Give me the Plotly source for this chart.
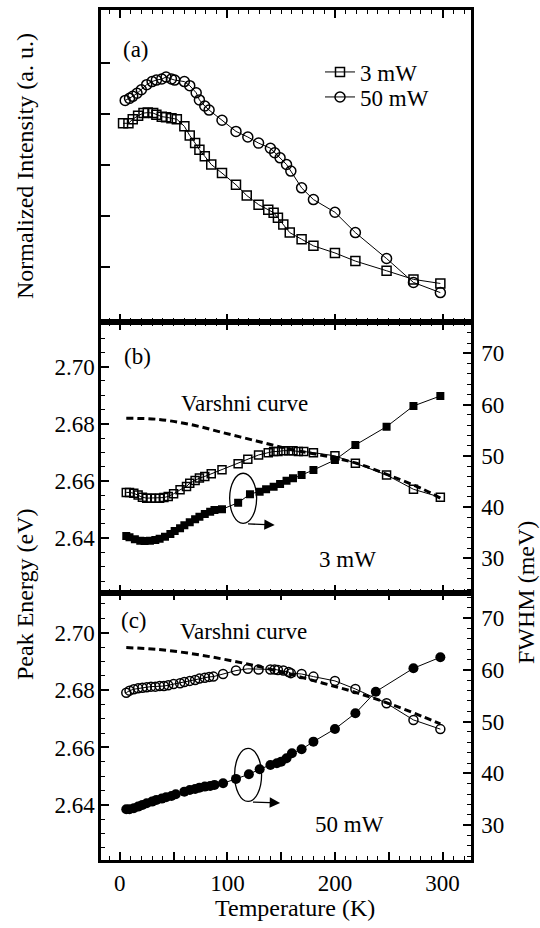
import plotly.graph_objects as go

# ---------------- data ----------------
# (a) normalized intensity
T_a3 = [3, 8, 12, 17, 22, 26, 31, 34, 39, 43, 48, 53, 60, 65, 70, 74, 79, 85, 95, 108,
        118, 129, 138, 143, 147, 152, 158, 169, 180, 200, 219, 248, 273, 298]
I_a3 = [3.82, 3.82, 3.90, 3.97, 4.02, 4.03, 4.02, 3.99, 3.95, 3.94, 3.92, 3.90, 3.76, 3.58,
        3.43, 3.30, 3.17, 3.01, 2.84, 2.61, 2.40, 2.22, 2.12, 2.06, 1.96, 1.83, 1.67, 1.54,
        1.41, 1.27, 1.11, 0.92, 0.75, 0.67]
T_a50 = [5, 9, 12, 16, 20, 25, 30, 34, 39, 43, 48, 51, 60, 65, 71, 74, 79, 83, 95, 108,
         119, 129, 140, 144, 149, 155, 159, 169, 180, 200, 219, 248, 273, 298]
I_a50 = [4.27, 4.31, 4.35, 4.41, 4.48, 4.58, 4.64, 4.67, 4.69, 4.73, 4.69, 4.67, 4.64, 4.56,
         4.42, 4.28, 4.16, 4.08, 3.88, 3.66, 3.55, 3.43, 3.33, 3.24, 3.14, 3.01, 2.88, 2.55,
         2.32, 2.07, 1.67, 1.16, 0.69, 0.49]

# (b) 3 mW
T_b_E = [6, 9, 13, 17, 21, 25, 29, 33, 37, 41, 45, 50, 56, 62, 65, 70, 74, 79, 85, 95,
         110, 119, 129, 138, 143, 147, 152, 157, 161, 166, 171, 180, 200, 219, 248, 273, 298]
E_b = [2.6560, 2.6560, 2.6557, 2.6551, 2.6543, 2.6540, 2.6540, 2.6540, 2.6540, 2.6542,
       2.6546, 2.6555, 2.6569, 2.6581, 2.6592, 2.6602, 2.6610, 2.6616, 2.6625, 2.6639,
       2.6660, 2.6676, 2.6691, 2.6699, 2.6703, 2.6703, 2.6706, 2.6706, 2.6706, 2.6703,
       2.6703, 2.6699, 2.6688, 2.6662, 2.6621, 2.6571, 2.6543]
T_b_F = [6, 9, 14, 19, 23, 28, 33, 37, 42, 47, 51, 56, 60, 65, 70, 74, 79, 84, 88, 95,
         110, 121, 130, 136, 143, 149, 155, 161, 169, 180, 200, 219, 248, 273, 298]
F_b = [34.35, 34.10, 33.70, 33.44, 33.38, 33.44, 33.58, 33.83, 34.22, 34.75,
       35.33, 35.85, 36.44, 37.02, 37.60, 38.12, 38.64, 39.10, 39.42, 39.56,
       40.85, 42.50, 43.00, 43.46, 43.97, 44.50, 45.14, 45.61, 46.25, 47.23,
       49.18, 52.11, 55.68, 59.72, 61.67]
T_vb = [6, 34, 65, 96, 127, 158, 189, 220, 251, 282, 298]
V_b = [2.6819, 2.6816, 2.6798, 2.6769, 2.6740, 2.6711, 2.6689, 2.6662, 2.6619, 2.6571, 2.6540]

# (c) 50 mW
T_c_E = [6, 9, 13, 17, 21, 25, 29, 33, 37, 41, 45, 50, 56, 60, 65, 70, 74, 79, 83, 87,
         96, 108, 119, 129, 140, 144, 147, 152, 157, 159, 169, 180, 200, 219, 248, 273, 298]
E_c = [2.6791, 2.6798, 2.6803, 2.6806, 2.6808, 2.6810, 2.6812, 2.6812, 2.6814, 2.6814,
       2.6817, 2.6821, 2.6824, 2.6828, 2.6832, 2.6835, 2.6840, 2.6843, 2.6846, 2.6847,
       2.6856, 2.6868, 2.6874, 2.6872, 2.6872, 2.6872, 2.6870, 2.6868, 2.6863, 2.6859,
       2.6856, 2.6847, 2.6832, 2.6804, 2.6754, 2.6696, 2.6664]
T_c_F = [6, 9, 13, 17, 21, 25, 30, 34, 39, 43, 48, 52, 60, 65, 70, 74, 79, 84, 88, 96,
         108, 120, 130, 140, 146, 150, 155, 160, 169, 180, 200, 219, 238, 273, 298]
F_c = [33.06, 33.06, 33.25, 33.56, 33.89, 34.22, 34.53, 34.86, 35.11, 35.38,
       35.63, 35.96, 36.46, 36.79, 36.98, 37.23, 37.43, 37.56, 37.76, 38.09,
       38.92, 39.83, 40.79, 41.62, 41.95, 42.26, 42.92, 43.89, 44.66, 46.13,
       48.59, 51.62, 55.80, 60.33, 62.46]
T_vc = [6, 34, 65, 96, 127, 158, 189, 220, 251, 282, 298]
V_c = [2.6948, 2.6942, 2.6928, 2.6908, 2.6884, 2.6855, 2.6824, 2.6791, 2.6752, 2.6707, 2.6682]

x_tickvals = [0, 50, 100, 150, 200, 250, 300]
x_ticktext = ["0", "", "100", "", "200", "", "300"]
a_tickvals = [1, 2, 3, 4, 5]

# ---------------- layout geometry ----------------
W, H = 540, 928
ML, MR, MT, MB = 101, 69, 10, 68
PW, PH = W - ML - MR, H - MT - MB
def px(x):
    return (x - ML) / PW
def py(y):
    return (H - MB - y) / PH

FONT = "Liberation Serif"
BLK = "black"

fig = go.Figure()

line_thin = dict(color=BLK, width=1)

# (a)
fig.add_trace(go.Scatter(x=T_a3, y=I_a3, mode="lines+markers", name="3 mW", legend="legend",
                         line=line_thin, xaxis="x", yaxis="y",
                         marker=dict(symbol="square-open", size=9, color=BLK, line=dict(width=1.5))))
fig.add_trace(go.Scatter(x=T_a50, y=I_a50, mode="lines+markers", name="50 mW", legend="legend2",
                         line=line_thin, xaxis="x", yaxis="y",
                         marker=dict(symbol="circle-open", size=10, color=BLK, line=dict(width=1.5))))
# (b)
fig.add_trace(go.Scatter(x=T_vb, y=V_b, mode="lines", showlegend=False, xaxis="x2", yaxis="y2",
                         line=dict(color=BLK, width=3, dash="7px,4px", shape="spline")))
fig.add_trace(go.Scatter(x=T_b_E, y=E_b, mode="lines+markers", showlegend=False,
                         line=line_thin, xaxis="x2", yaxis="y2",
                         marker=dict(symbol="square-open", size=8, color=BLK, line=dict(width=1.5))))
fig.add_trace(go.Scatter(x=T_b_F, y=F_b, mode="lines+markers", showlegend=False,
                         line=line_thin, xaxis="x2", yaxis="y3",
                         marker=dict(symbol="square", size=8, color=BLK)))
# (c)
fig.add_trace(go.Scatter(x=T_vc, y=V_c, mode="lines", showlegend=False, xaxis="x3", yaxis="y4",
                         line=dict(color=BLK, width=3, dash="7px,4px", shape="spline")))
fig.add_trace(go.Scatter(x=T_c_E, y=E_c, mode="lines+markers", showlegend=False,
                         line=line_thin, xaxis="x3", yaxis="y4",
                         marker=dict(symbol="circle-open", size=9, color=BLK, line=dict(width=1.5))))
fig.add_trace(go.Scatter(x=T_c_F, y=F_c, mode="lines+markers", showlegend=False,
                         line=line_thin, xaxis="x3", yaxis="y5",
                         marker=dict(symbol="circle", size=10, color=BLK)))

XR = [-17.5, 326.5]
dom_a = [py(322), 1.0]
dom_b = [py(592.5), py(322)]
dom_c = [0.0, py(592.5)]

tickfont = dict(family=FONT, size=23, color=BLK)

def xax(anchor, show_labels):
    return dict(range=XR, anchor=anchor, domain=[0, 1], showline=True, linecolor=BLK,
                linewidth=2.5, mirror="ticks", ticks="inside", ticklen=8, tickwidth=1.5,
                tickcolor=BLK, tickmode="array", tickvals=x_tickvals, ticktext=x_ticktext,
                showticklabels=show_labels, tickfont=tickfont, showgrid=False, zeroline=False,
                ticklabelstandoff=1,
                minor=dict(tickmode="linear", tick0=0, dtick=10, ticks="inside", ticklen=4,
                           tickwidth=1.2, tickcolor=BLK, showgrid=False))

def eax(anchor, dom, rng):
    return dict(range=rng, domain=dom, anchor=anchor, showline=True, linecolor=BLK, linewidth=2.5,
                ticks="inside", ticklen=8, tickwidth=1.5, tickcolor=BLK, tick0=2.64, dtick=0.02,
                tickformat=".2f", tickfont=tickfont, showgrid=False, zeroline=False,
                ticklabelstandoff=-1,
                minor=dict(tick0=2.64, dtick=0.005, ticks="inside", ticklen=4, tickwidth=1.2,
                           tickcolor=BLK, showgrid=False))

def fax(anchor, over, rng):
    return dict(range=rng, overlaying=over, side="right", anchor=anchor, showline=True,
                linecolor=BLK, linewidth=2.5, ticks="inside", ticklen=8, tickwidth=1.5,
                tickcolor=BLK, tick0=30, dtick=10, tickfont=tickfont, showgrid=False,
                zeroline=False, ticklabelstandoff=3,
                minor=dict(tick0=30, dtick=2, ticks="inside", ticklen=4, tickwidth=1.2,
                           tickcolor=BLK, showgrid=False))

leg_common = dict(xanchor="left", yanchor="middle", bgcolor="rgba(0,0,0,0)",
                  font=dict(family=FONT, size=23, color=BLK), itemsizing="trace",
                  borderwidth=0)

fig.update_layout(
    width=W, height=H, margin=dict(l=ML, r=MR, t=MT, b=MB, autoexpand=False),
    paper_bgcolor="white", plot_bgcolor="white",
    font=dict(family=FONT, size=23, color=BLK),
    xaxis=xax("y", False), xaxis2=xax("y2", False), xaxis3=xax("y4", True),
    yaxis=dict(range=[-0.088, 6.048], domain=dom_a, anchor="x", showline=True, linecolor=BLK,
               linewidth=2.5, mirror=True, ticks="inside", ticklen=9, tickwidth=1.5, tickcolor=BLK,
               tickmode="array", tickvals=a_tickvals, showticklabels=False, showgrid=False,
               zeroline=False),
    yaxis2=eax("x2", dom_b, [2.6210, 2.7156]),
    yaxis3=fax("x2", "y2", [23.33, 76.1]),
    yaxis4=eax("x3", dom_c, [2.6208, 2.7140]),
    yaxis5=fax("x3", "y4", [23.23, 74.99]),
    legend=dict(x=px(320), y=py(72), **leg_common),
    legend2=dict(x=px(320), y=py(97), **leg_common),
    showlegend=True,
)

# ellipses and arrows
fig.add_shape(type="circle", xref="x2", yref="y2", x0=102.1, x1=127.2, y0=2.6452, y1=2.6627,
              line=dict(color=BLK, width=1.3))
fig.add_shape(type="circle", xref="x3", yref="y4", x0=106.7, x1=131.8, y0=2.6412, y1=2.6597,
              line=dict(color=BLK, width=1.3))
fig.add_annotation(x=144, y=2.6446, xref="x2", yref="y2", ax=117.8, ay=2.6450, axref="x2",
                   ayref="y2", showarrow=True, arrowhead=2, arrowsize=1.6, arrowwidth=1.3,
                   arrowcolor=BLK, text="")
fig.add_annotation(x=149, y=2.6407, xref="x3", yref="y4", ax=122.4, ay=2.6410, axref="x3",
                   ayref="y4", showarrow=True, arrowhead=2, arrowsize=1.6, arrowwidth=1.3,
                   arrowcolor=BLK, text="")

def txt(s, x, y, size=23, angle=0):
    fig.add_annotation(text=s, x=px(x), y=py(y), xref="paper", yref="paper", showarrow=False,
                       xanchor="center", yanchor="middle", textangle=angle,
                       font=dict(family=FONT, size=size, color=BLK))

txt("(a)", 136, 49)
txt("(b)", 137, 356)
txt("(c)", 134, 620)
txt("Varshni curve", 244, 403)
txt("Varshni curve", 243, 632)
txt("3 mW", 347, 559)
txt("50 mW", 349, 824)
txt("Normalized Intensity (a. u.)", 25, 166, size=24, angle=-90)
txt("Peak Energy (eV)", 25, 594, size=24, angle=-90)
txt("FWHM (meV)", 526, 593, size=24, angle=-90)
txt("Temperature (K)", 295, 908, size=24)

fig.write_html("out.html", config={"displayModeBar": False},
               post_script="document.body.style.margin='0px';document.body.style.overflow='hidden';")
